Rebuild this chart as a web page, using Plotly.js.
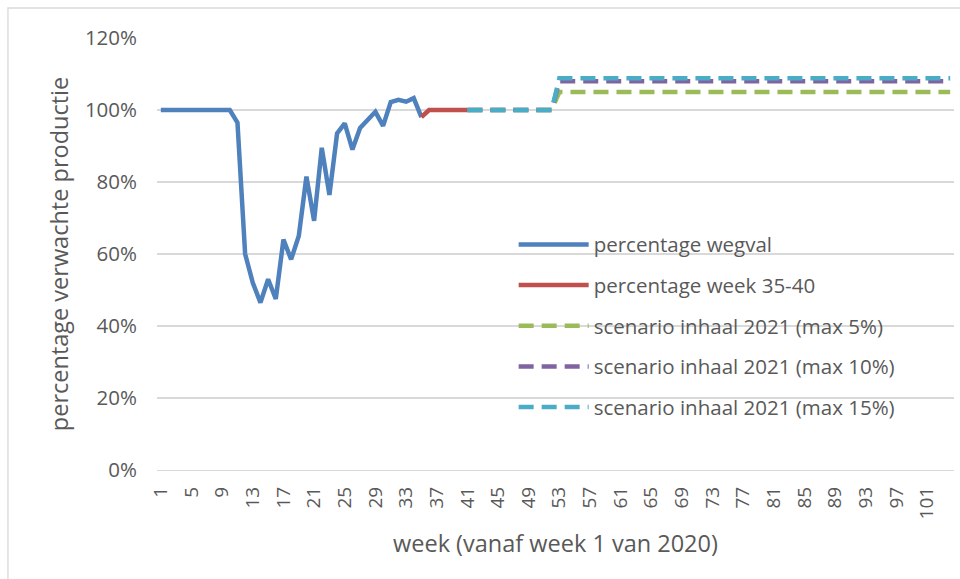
<!DOCTYPE html>
<html>
<head>
<meta charset="utf-8">
<script src="https://cdn.plot.ly/plotly-3.0.1.min.js"></script>
<style>
  html, body { margin: 0; padding: 0; background: #ffffff; }
  #myGraph { width: 960px; height: 579px; }
</style>
</head>
<body>
<div id="myGraph"></div>
<script>
"use strict";

// weeks 1-35: percentage wegval
var weeksWegval = [];
for (var i = 1; i <= 35; i++) { weeksWegval.push(i); }
var valWegval = [100, 100, 100, 100, 100, 100, 100, 100, 100, 100,
                 96.5, 60, 52, 46.5, 53, 47.5, 64, 58.5, 65, 81.5,
                 69.2, 89.5, 76.4, 93.5, 96.3, 89, 95, 97.3, 99.5, 95.6,
                 102.2, 102.8, 102.3, 103.3, 98];

// weeks 35-41: percentage week 35-40
var weeksRed = [35, 36, 37, 38, 39, 40, 41];
var valRed = [98, 100, 100, 100, 100, 100, 100];

// scenarios: weeks 41-52 at 100%, weeks 53-104 at the catch-up level
var weeksScen = [41, 52, 53, 104];
var valMax5 = [100, 100, 105, 105];
var valMax10 = [100, 100, 108, 108];
var valMax15 = [100, 100, 108.8, 108.8];

var xTicks = [];
for (var t = 1; t <= 101; t += 4) { xTicks.push(t); }

var names = ['percentage wegval', 'percentage week 35-40',
             'scenario inhaal 2021 (max 5%)', 'scenario inhaal 2021 (max 10%)',
             'scenario inhaal 2021 (max 15%)'];
var colors = ['#4F81BD', '#C0504D', '#9BBB59', '#8064A2', '#4BACC6'];

function makeLine(x, y, k, dashed) {
    return {
        x: x,
        y: y,
        mode: 'lines',
        name: names[k],
        legendgroup: 'g' + k,
        line: {color: colors[k], width: 4.5, dash: dashed ? '15px,8px' : 'solid'},
        hoverinfo: 'skip'
    };
}

var data = [
    makeLine(weeksWegval, valWegval, 0, false),
    makeLine(weeksRed, valRed, 1, false),
    makeLine(weeksScen, valMax5, 2, true),
    makeLine(weeksScen, valMax10, 3, true),
    makeLine(weeksScen, valMax15, 4, true)
];

var gray = '#595959';
var grid = '#d9d9d9';
var fam = '"Open Sans", Lato, sans-serif';

var layout = {
    width: 960,
    height: 579,
    margin: {l: 157, r: 6, t: 38, b: 109},
    paper_bgcolor: '#ffffff',
    plot_bgcolor: '#ffffff',
    font: {family: fam, size: 20.5, color: gray},
    showlegend: true,
    legend: {
        x: 0.4475, y: 0.568, xanchor: 'left', yanchor: 'top',
        bgcolor: 'rgba(0,0,0,0)',
        itemwidth: 70,
        tracegroupgap: 11,
        traceorder: 'grouped',
        font: {family: fam, size: 20.5, color: gray}
    },
    xaxis: {
        range: [0.5, 104.5],
        tickmode: 'array',
        tickvals: xTicks,
        ticktext: xTicks.map(String),
        tickangle: -90,
        ticks: '',
        ticklabelstandoff: 8,
        showgrid: false,
        zeroline: false,
        showline: true,
        linecolor: grid,
        linewidth: 1.3,
        tickfont: {family: fam, size: 19, color: gray},
        title: {text: 'week (vanaf week 1 van 2020)', font: {family: fam, size: 23.5, color: gray}, standoff: 17}
    },
    yaxis: {
        range: [0, 120],
        dtick: 20,
        ticksuffix: '%',
        ticks: '',
        ticklabelstandoff: 19,
        showgrid: true,
        gridcolor: grid,
        gridwidth: 1.3,
        zeroline: false,
        showline: false,
        tickfont: {family: fam, size: 20.5, color: gray},
        title: {text: 'percentage verwachte productie', font: {family: fam, size: 23.5, color: gray}, standoff: 9}
    },
    shapes: [{
        type: 'rect', xref: 'paper', yref: 'paper',
        x0: -0.187, x1: 1.02, y0: -0.3, y1: 1.0694,
        line: {color: grid, width: 1.3}, fillcolor: 'rgba(0,0,0,0)', layer: 'below'
    }]
};

Plotly.newPlot('myGraph', data, layout, {displayModeBar: false, staticPlot: true});
</script>
</body>
</html>
